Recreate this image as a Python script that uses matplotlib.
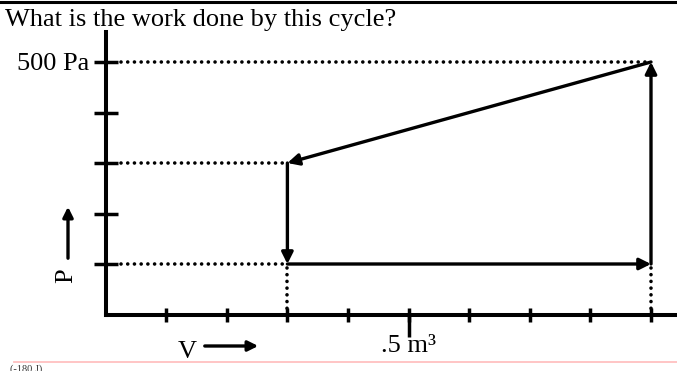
import matplotlib
matplotlib.use("Agg")
import matplotlib.pyplot as plt
from matplotlib.lines import Line2D
from matplotlib.ticker import FixedLocator, FixedFormatter

plt.rcParams['font.family'] = ['Liberation Serif', 'DejaVu Serif']

# ---- data ----
title = "What is the work done by this cycle?"
answer = "(-180 J)"
v_ticks = [0.1, 0.2, 0.3, 0.4, 0.5, 0.6, 0.7, 0.8, 0.9]
p_ticks = [100, 200, 300, 400, 500]
v_label_tick = 0.5
v_tick_text = ".5 m³"
p_label_tick = 500
p_tick_text = "500 Pa"
# cycle vertices in order (V in m^3, P in Pa)
cycle_V = [0.3, 0.3, 0.9, 0.9, 0.3]
cycle_P = [300, 100, 100, 500, 300]

W, H = 677, 371
fig = plt.figure(figsize=(W / 100, H / 100), dpi=100)

x0, y0 = 105.6, 314.5  # pixel of origin
ax = fig.add_axes([x0 / W, (H - y0) / H, (W - x0) / W, (y0 - 32) / H])
ax.set_xlim(0, (W - x0) / 606.0)
ax.set_ylim(0, (y0 - 32) / 50.5 * 100)

for s in ['top', 'right']:
    ax.spines[s].set_visible(False)
for s in ['left', 'bottom']:
    ax.spines[s].set_linewidth(2.9)
    ax.spines[s].set_capstyle('projecting')

ax.set_yticks(p_ticks)
ax.set_yticklabels([p_tick_text if p == p_label_tick else "" for p in p_ticks],
                   fontsize=19)
ax.tick_params(axis='y', direction='inout', length=17.3, width=2.5, pad=3)
for lbl in ax.get_yticklabels():
    lbl.set_y(lbl.get_position()[1])

ax.set_xticks(v_ticks)
ax.set_xticklabels([""] * len(v_ticks))
ax.tick_params(axis='x', which='major', direction='inout', length=10, width=2.5)
ax.xaxis.remove_overlapping_locs = False
ax.xaxis.set_minor_locator(FixedLocator([v_label_tick]))
ax.xaxis.set_minor_formatter(FixedFormatter([v_tick_text]))
ax.tick_params(axis='x', which='minor', direction='out', length=15.8, width=2.5,
               pad=-1, labelsize=19)

# dotted guide lines
dot = dict(color='black', lw=2.6, linestyle=(0, (0.01, 1.85)),
           dash_capstyle='round', zorder=1, clip_on=False)
pmax = max(cycle_P)
vmax = max(cycle_V)
vmin = min(cycle_V)
pmin = min(cycle_P)
ax.plot([0.025, vmax], [pmax, pmax], **dot)
ax.plot([0.025, vmin], [cycle_P[0], cycle_P[0]], **dot)
ax.plot([0.025, vmin], [pmin, pmin], **dot)
ax.plot([vmin, vmin], [0, pmin], **dot)
ax.plot([vmax, vmax], [0, pmin], **dot)

# cycle arrows
for i in range(len(cycle_V) - 1):
    ax.annotate("", xy=(cycle_V[i + 1], cycle_P[i + 1]),
                xytext=(cycle_V[i], cycle_P[i]),
                arrowprops=dict(arrowstyle='-|>', color='black', lw=2.4,
                                mutation_scale=17, shrinkA=0, shrinkB=0),
                zorder=3)

# axis labels with arrows
def fx(px):
    return px / W

def fy(py):
    return (H - py) / H

fig.text(fx(66), fy(276), "P", rotation=90, ha='center', va='center', fontsize=19)
fig.add_artist(matplotlib.patches.FancyArrowPatch(
    (fx(68), fy(261)), (fx(68), fy(204)), transform=fig.transFigure,
    arrowstyle='-|>', color='black', lw=2.4, mutation_scale=15))
fig.text(fx(187), fy(352), "V", ha='center', va='center', fontsize=19)
fig.add_artist(matplotlib.patches.FancyArrowPatch(
    (fx(202), fy(346)), (fx(261), fy(346)), transform=fig.transFigure,
    arrowstyle='-|>', color='black', lw=2.4, mutation_scale=15))

fig.text(fx(5), fy(26), title, ha='left', va='baseline', fontsize=19)

fig.add_artist(Line2D([0, 1], [fy(1.5), fy(1.5)], transform=fig.transFigure,
                      color='black', lw=2.2))
fig.add_artist(Line2D([fx(14), 1], [fy(362), fy(362)], transform=fig.transFigure,
                      color='#ffc0c0', lw=1.3))
fig.text(fx(10), fy(364), answer, ha='left', va='top', fontsize=7.5, color='#333333')

fig.savefig("out.png", dpi=100)
